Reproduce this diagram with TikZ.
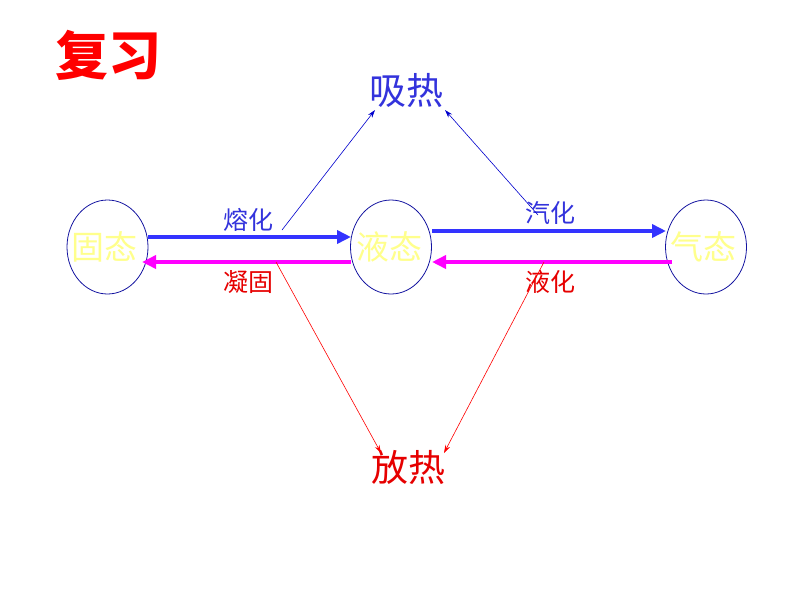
\documentclass[tikz,border=0pt]{standalone}
\usepackage{fontspec}
\setmainfont{Noto Sans CJK SC}
\newfontfamily\cjk{Noto Sans CJK SC}
\usetikzlibrary{arrows.meta,shapes.geometric}
\definecolor{tblue}{RGB}{51,51,220}
\definecolor{ablue}{RGB}{51,51,255}
\definecolor{pyel}{RGB}{255,255,140}
\definecolor{ered}{RGB}{230,0,0}
\definecolor{eblue}{RGB}{20,20,160}
\definecolor{pmag}{RGB}{255,0,255}
\tikzset{
  state/.style={draw=eblue, line width=0.8pt, ellipse, minimum width=81pt, minimum height=94pt, inner sep=0pt},
  statetext/.style={text=pyel, font=\cjk\fontsize{33}{33}\selectfont, inner sep=0pt},
  fwd/.style={draw=ablue, line width=4pt, -{Triangle[length=14pt,width=13pt]}},
  bwd/.style={draw=pmag, line width=4pt, -{Triangle[length=14pt,width=13pt]}},
  lblb/.style={text=tblue, font=\cjk\fontsize{25}{25}\selectfont, inner sep=0pt},
  lblr/.style={text=ered, font=\cjk\fontsize{25}{25}\selectfont, inner sep=0pt},
  heat/.style={font=\cjk\fontsize{37}{37}\selectfont, inner sep=0pt},
  thinb/.style={draw=blue!80!black, line width=0.6pt, -{Stealth[length=8pt,width=5pt]}},
  thinr/.style={draw=red, line width=0.6pt, -{Stealth[length=8pt,width=5pt]}}
}
\begin{document}
\begin{tikzpicture}[x=1pt,y=-1pt]
\useasboundingbox (0,0) rectangle (800,600);
% title
\node[text=red, font=\cjk\bfseries\fontsize{53}{53}\selectfont, inner sep=0pt] (title) at (108,55) {复习};
% states
\node[state] (s) at (107.5,247) {};
\node[state] (l) at (391,247) {};
\node[state] (g) at (706,247) {};
\node[statetext] (st) at (104,247) {固态};
\node[statetext] (lt) at (389,247) {液态};
\node[statetext] (gt) at (703,247) {气态};
% heat labels
\node[heat, text=tblue] (absorb) at (406,90) {吸热};
\node[heat, text=ered] (release) at (408,467) {放热};
% process labels
\node[lblb] (melt) at (248,220) {熔化};
\node[lblr] (freeze) at (248,282) {凝固};
\node[lblb] (vap) at (550,213) {汽化};
\node[lblr] (cond) at (550,282) {液化};
% arrow endpoints
\coordinate (m1) at (148,237);
\coordinate (m2) at (351,237);
\coordinate (f1) at (351,262);
\coordinate (f2) at (142,262);
\coordinate (v1) at (432,231);
\coordinate (v2) at (666,231);
\coordinate (c1) at (672,262);
\coordinate (c2) at (432,262);
\draw[fwd] (m1) -- (m2);
\draw[bwd] (f1) -- (f2);
\draw[fwd] (v1) -- (v2);
\draw[bwd] (c1) -- (c2);
% thin lines
\coordinate (a1) at (282,230);
\coordinate (a1e) at (375,110);
\coordinate (a2) at (538,215);
\coordinate (a2e) at (445,110);
\coordinate (r1) at (276,262);
\coordinate (r1e) at (381,453);
\coordinate (r2) at (544,262);
\coordinate (r2e) at (444,453);
\draw[thinb] (a1) -- (a1e);
\draw[thinb] (a2) -- (a2e);
\draw[thinr] (r1) -- (r1e);
\draw[thinr] (r2) -- (r2e);
\end{tikzpicture}
\end{document}
